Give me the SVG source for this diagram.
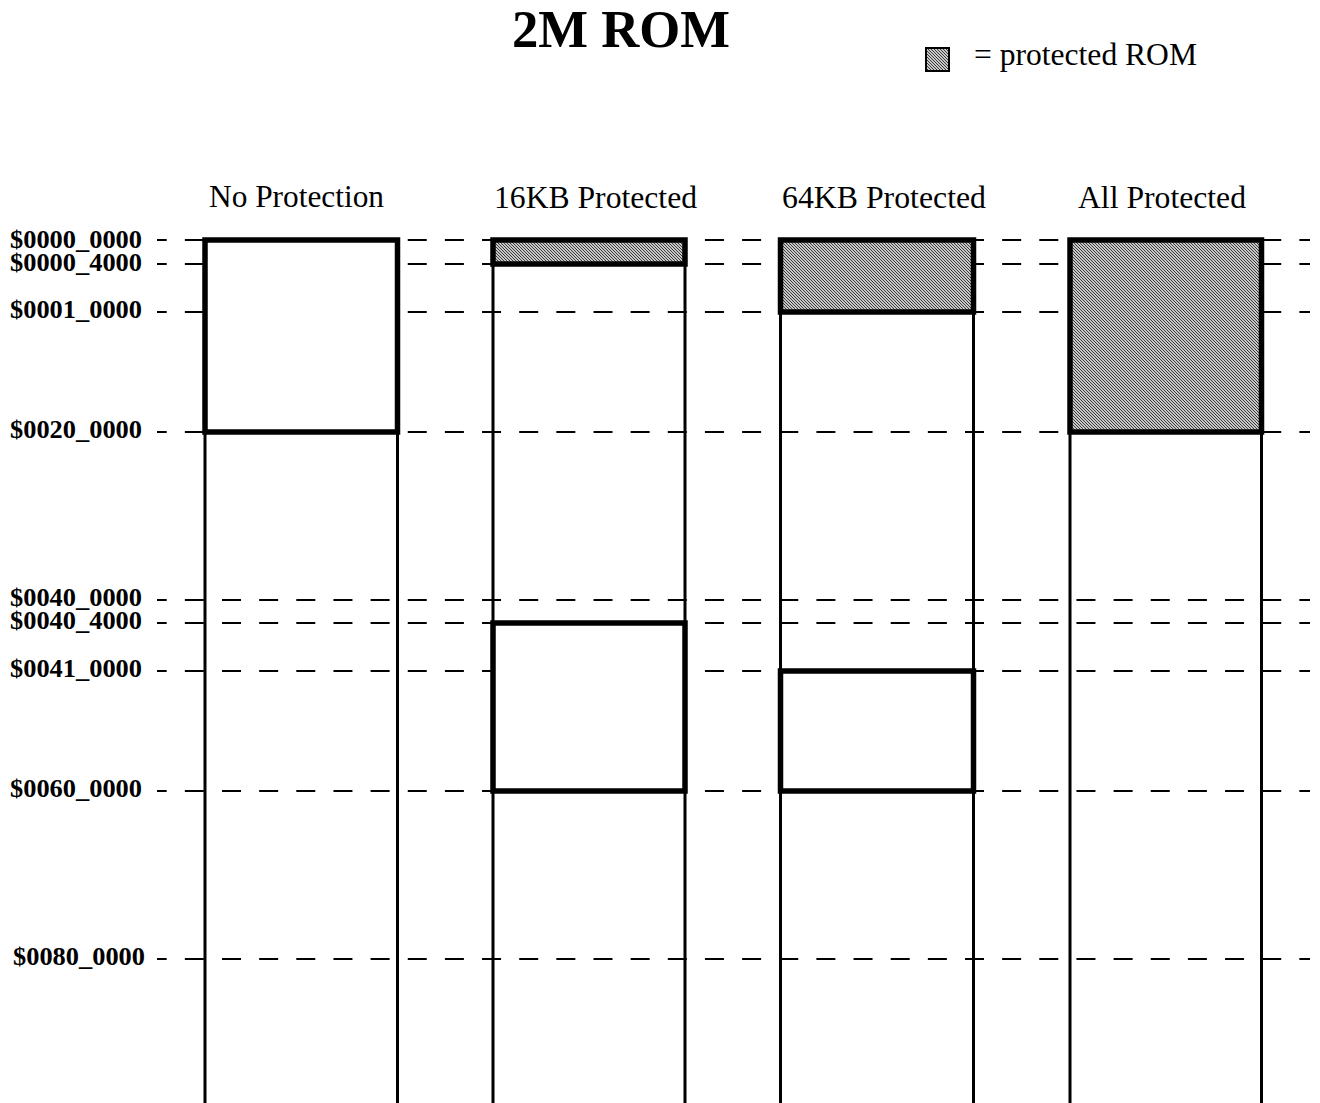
<svg xmlns="http://www.w3.org/2000/svg" width="1320" height="1103" viewBox="0 0 1320 1103">
  <style>
    .title { font-family: "Liberation Serif", "Times New Roman", serif; font-weight: bold; font-size: 53px; fill: #000; }
    .head { font-family: "Liberation Serif", "Times New Roman", serif; font-size: 31px; fill: #000; }
    .addr { font-family: "Liberation Serif", "Times New Roman", serif; font-weight: bold; font-size: 25.5px; fill: #000; text-anchor: end; }
    .guide { stroke: #000; stroke-width: 2; stroke-dasharray: 19 18.15; stroke-dashoffset: 9.3; fill: none; }
    .rail { stroke: #000; stroke-width: 3; fill: none; }
    .open { fill: #fff; stroke: #000; stroke-width: 5.5; }
    .prot { fill: url(#hatch); stroke: #000; stroke-width: 5.5; }
  </style>
  <defs>
    <!-- fine diagonal halftone used for protected regions -->
    <pattern id="hatch" patternUnits="userSpaceOnUse" width="3" height="3" shape-rendering="crispEdges">
      <rect width="3" height="3" fill="#c8c8c8"/>
      <rect x="0" y="0" width="1" height="1" fill="#3a3a3a"/>
      <rect x="1" y="1" width="1" height="1" fill="#3a3a3a"/>
      <rect x="2" y="2" width="1" height="1" fill="#3a3a3a"/>
    </pattern>
  </defs>

  <rect width="1320" height="1103" fill="#fff"/>

  <text class="title" x="512" y="47" textLength="218" lengthAdjust="spacingAndGlyphs">2M ROM</text>

  <g id="legend">
    <rect x="926" y="48" width="23" height="23" fill="url(#hatch)" stroke="#000" stroke-width="2"/>
    <text class="head" x="974" y="65" textLength="223" lengthAdjust="spacingAndGlyphs">= protected ROM</text>
  </g>

  <!-- address guide lines -->
  <g id="connectors">
    <line class="guide" x1="157" y1="240" x2="1310" y2="240"/>
    <line class="guide" x1="157" y1="264" x2="1310" y2="264"/>
    <line class="guide" x1="157" y1="312" x2="1310" y2="312"/>
    <line class="guide" x1="157" y1="432" x2="1310" y2="432"/>
    <line class="guide" x1="157" y1="600" x2="1310" y2="600"/>
    <line class="guide" x1="157" y1="623" x2="1310" y2="623"/>
    <line class="guide" x1="157" y1="671" x2="1310" y2="671"/>
    <line class="guide" x1="157" y1="791" x2="1310" y2="791"/>
    <line class="guide" x1="157" y1="959" x2="1310" y2="959"/>
  </g>

  <g id="addresses">
    <text class="addr" x="142" y="248" textLength="132" lengthAdjust="spacingAndGlyphs">$0000_0000</text>
    <text class="addr" x="142" y="271" textLength="132" lengthAdjust="spacingAndGlyphs">$0000_4000</text>
    <text class="addr" x="142" y="318" textLength="132" lengthAdjust="spacingAndGlyphs">$0001_0000</text>
    <text class="addr" x="142" y="438" textLength="132" lengthAdjust="spacingAndGlyphs">$0020_0000</text>
    <text class="addr" x="142" y="606" textLength="132" lengthAdjust="spacingAndGlyphs">$0040_0000</text>
    <text class="addr" x="142" y="629" textLength="132" lengthAdjust="spacingAndGlyphs">$0040_4000</text>
    <text class="addr" x="142" y="677" textLength="132" lengthAdjust="spacingAndGlyphs">$0041_0000</text>
    <text class="addr" x="142" y="797" textLength="132" lengthAdjust="spacingAndGlyphs">$0060_0000</text>
    <text class="addr" x="145" y="965" textLength="132" lengthAdjust="spacingAndGlyphs">$0080_0000</text>
  </g>

  <g id="col-none">
    <text class="head" x="209" y="207" textLength="175" lengthAdjust="spacingAndGlyphs">No Protection</text>
    <line class="rail" x1="205" y1="240" x2="205" y2="1103"/>
    <line class="rail" x1="397.5" y1="240" x2="397.5" y2="1103"/>
    <rect class="open" x="205" y="240" width="192.5" height="192"/>
  </g>

  <g id="col-16kb">
    <text class="head" x="494" y="208" textLength="203" lengthAdjust="spacingAndGlyphs">16KB Protected</text>
    <line class="rail" x1="493" y1="240" x2="493" y2="1103"/>
    <line class="rail" x1="685" y1="240" x2="685" y2="1103"/>
    <rect class="prot" x="493" y="240" width="192" height="24"/>
    <rect class="open" x="493" y="623" width="192" height="168"/>
  </g>

  <g id="col-64kb">
    <text class="head" x="782" y="208" textLength="204" lengthAdjust="spacingAndGlyphs">64KB Protected</text>
    <line class="rail" x1="780.5" y1="240" x2="780.5" y2="1103"/>
    <line class="rail" x1="973.5" y1="240" x2="973.5" y2="1103"/>
    <rect class="prot" x="780.5" y="240" width="193" height="72"/>
    <rect class="open" x="780.5" y="671" width="193" height="120"/>
  </g>

  <g id="col-all">
    <text class="head" x="1078" y="208" textLength="168" lengthAdjust="spacingAndGlyphs">All Protected</text>
    <line class="rail" x1="1070" y1="240" x2="1070" y2="1103"/>
    <line class="rail" x1="1261.5" y1="240" x2="1261.5" y2="1103"/>
    <rect class="prot" x="1070" y="240" width="191.5" height="192"/>
  </g>
</svg>
